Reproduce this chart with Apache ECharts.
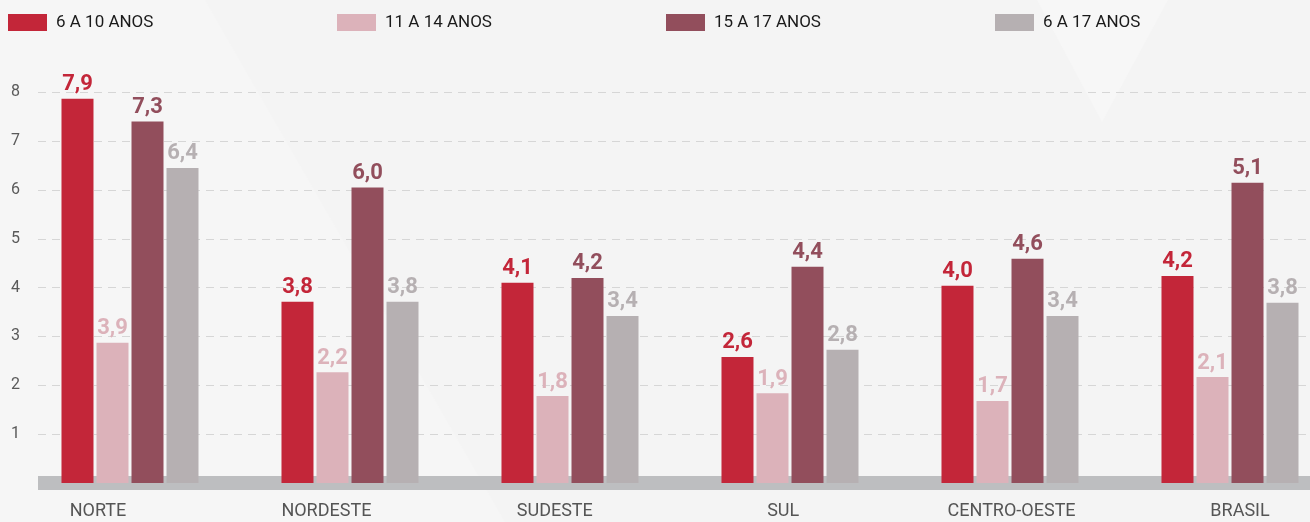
<!DOCTYPE html>
<html>
<head>
<meta charset="utf-8">
<script src="https://cdn.jsdelivr.net/npm/echarts@6/dist/echarts.min.js"></script>
<style>
html,body{margin:0;padding:0;background:#f4f4f4;}
#c{width:1310px;height:522px;}
</style>
</head>
<body>
<div id="c"></div>
<script>
// ---- data ----
var categorias = ['NORTE', 'NORDESTE', 'SUDESTE', 'SUL', 'CENTRO-OESTE', 'BRASIL'];
var faixas = ['6 A 10 ANOS', '11 A 14 ANOS', '15 A 17 ANOS', '6 A 17 ANOS'];
// bar heights as drawn
var v6a10  = [7.87, 3.71, 4.10, 2.58, 4.04, 4.24];
var v11a14 = [2.87, 2.27, 1.78, 1.84, 1.68, 2.17];
var v15a17 = [7.40, 6.05, 4.20, 4.43, 4.59, 6.15];
var v6a17  = [6.45, 3.71, 3.42, 2.73, 3.42, 3.69];
// value labels as printed
var r6a10  = ['7,9', '3,8', '4,1', '2,6', '4,0', '4,2'];
var r11a14 = ['3,9', '2,2', '1,8', '1,9', '1,7', '2,1'];
var r15a17 = ['7,3', '6,0', '4,2', '4,4', '4,6', '5,1'];
var r6a17  = ['6,4', '3,8', '3,4', '2,8', '3,4', '3,8'];
var yMin = 0, yMax = 8, yStep = 1;

var cores = ['#c32639', '#dcb2ba', '#924e5c', '#b6b0b2'];
var valores = [v6a10, v11a14, v15a17, v6a17];
var rotulos = [r6a10, r11a14, r15a17, r6a17];
var FONT = 'Roboto, "Noto Sans", sans-serif';

var chart = echarts.init(document.getElementById('c'), null, {renderer: 'canvas'});

var legendLefts = [8, 337, 666, 995];
var legends = faixas.map(function (f, i) {
  return {
    data: [f], left: legendLefts[i], top: 14, icon: 'rect',
    itemWidth: 39, itemHeight: 17, padding: 0, selectedMode: false,
    textStyle: {fontFamily: FONT, fontSize: 17, color: '#1a1a1a', padding: [0, 0, 0, 4]}
  };
});

var series = faixas.map(function (f, i) {
  return {
    name: f, type: 'bar', xAxisIndex: 1, yAxisIndex: 1,
    data: valores[i], barWidth: 32, barGap: '9.4%',
    itemStyle: {color: cores[i]},
    label: {
      show: true, position: 'top', distance: 3,
      fontFamily: FONT, fontSize: 22, fontWeight: 'bold', color: cores[i],
      formatter: function (p) { return rotulos[p.seriesIndex][p.dataIndex]; }
    }
  };
});

chart.setOption({
  backgroundColor: '#f4f4f4',
  animation: false,
  graphic: [
    {type: 'polygon', z: -10, silent: true,
     shape: {points: [[0, 0], [205, 0], [505, 522], [0, 522]]},
     style: {fill: '#f6f6f6'}},
    {type: 'polygon', z: -10, silent: true,
     shape: {points: [[1037, 0], [1168, 0], [1102, 122]]},
     style: {fill: '#f7f7f7'}}
  ],
  legend: legends,
  grid: [
    {left: 38, right: 0, top: 92.3, bottom: 39, outerBoundsMode: 'none', containLabel: false},
    {left: 20, width: 1320, top: 92.3, bottom: 39, outerBoundsMode: 'none', containLabel: false},
    {left: -16.2, width: 1370.4, top: 92.3, bottom: 39, outerBoundsMode: 'none', containLabel: false}
  ],
  xAxis: [
    {gridIndex: 0, type: 'category', data: categorias, offset: 1,
     axisLine: {show: true, lineStyle: {color: '#bdbec0', width: 14, cap: 'butt'}},
     axisTick: {show: false}, axisLabel: {show: false}},
    {gridIndex: 1, type: 'category', data: categorias,
     axisLine: {show: false}, axisTick: {show: false}, axisLabel: {show: false}},
    {gridIndex: 2, type: 'category', data: categorias,
     axisLine: {show: false}, axisTick: {show: false},
     axisLabel: {show: true, margin: 19, fontFamily: FONT, fontSize: 18, color: '#555555'}}
  ],
  yAxis: [
    {gridIndex: 0, type: 'value', min: yMin, max: yMax, interval: yStep,
     axisLine: {show: false}, axisTick: {show: false},
     axisLabel: {margin: 18, fontFamily: FONT, fontSize: 16, color: '#5a5a5a',
                 formatter: function (v) { return v === 0 ? '' : String(v); }},
     splitLine: {show: true, lineStyle: {color: '#d6d6d6', width: 1, type: [8, 6]}}},
    {gridIndex: 1, type: 'value', min: yMin, max: yMax, interval: yStep, show: false,
     splitLine: {show: false}},
    {gridIndex: 2, type: 'value', min: yMin, max: yMax, interval: yStep, show: false,
     splitLine: {show: false}}
  ],
  series: series
});
</script>
</body>
</html>
